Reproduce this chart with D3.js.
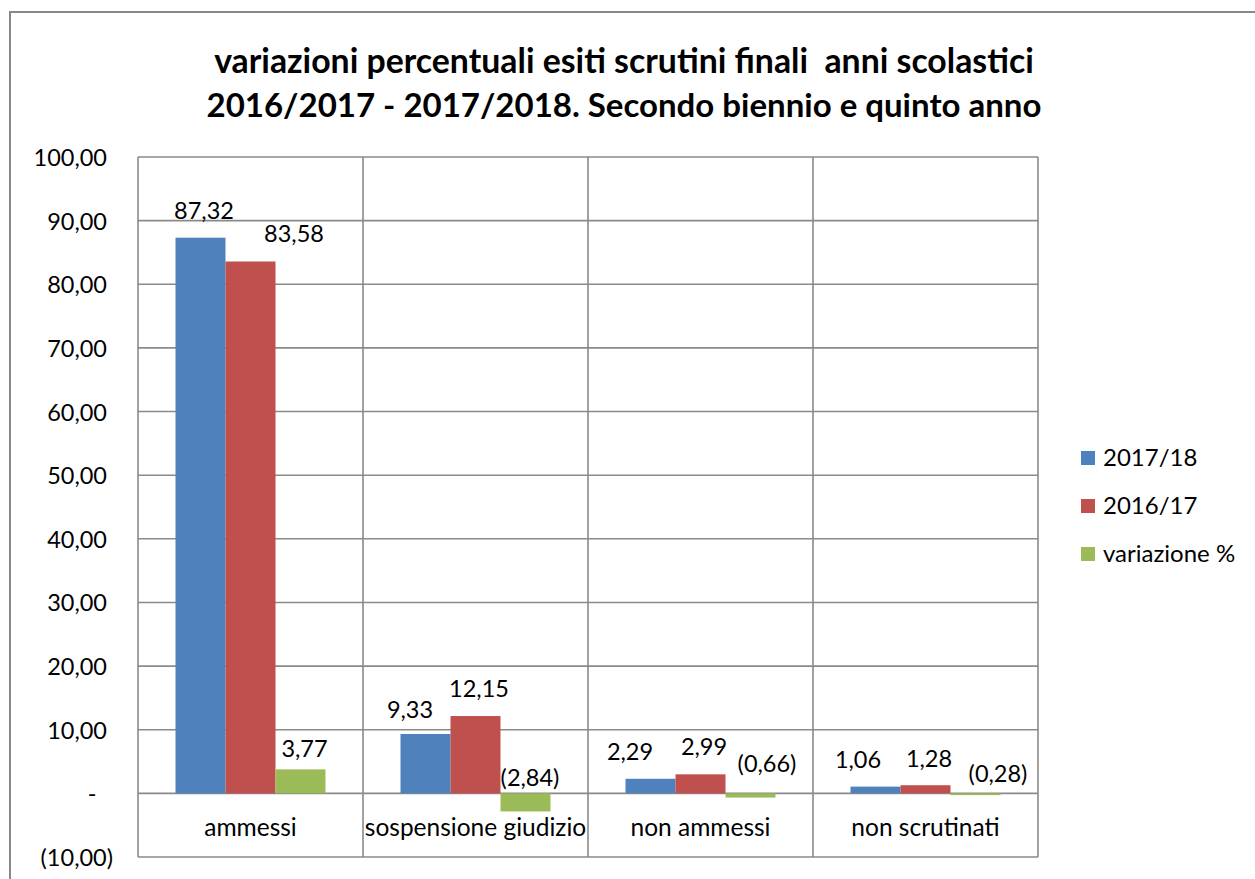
<!DOCTYPE html>
<html>
<head>
<meta charset="utf-8">
<script src="https://cdn.jsdelivr.net/npm/d3@7"></script>
<style>
  body { margin: 0; background: #fff; }
  svg { display: block; font-family: "Lato", "Liberation Sans", sans-serif; }
</style>
</head>
<body>
<svg id="chart" width="1255" height="879"></svg>
<script>
// data
var categories = ["ammessi", "sospensione giudizio", "non ammessi", "non scrutinati"];
var seriesNames = ["2017/18", "2016/17", "variazione %"];
var values1718 = [87.32, 9.33, 2.29, 1.06];
var values1617 = [83.58, 12.15, 2.99, 1.28];
var variazione = [3.77, -2.84, -0.66, -0.28];
var yTicks = [-10, 0, 10, 20, 30, 40, 50, 60, 70, 80, 90, 100];

// label nudges (excel moved some labels to avoid overlaps)
var nudgeX = [[3.5, -15.5, -20.5, -17.5], [43.5, 3.5, 3.5, 3.5], [4, 4.5, 16.5, 22.5]];
var nudgeY = [[0, 3, 0, 0], [0, 0, 0, 1], [7, 12, -2, 8]];

var COLORS = ["#4F81BD", "#C0504D", "#9BBB59"];
var GRID = "#8a8a8a";

var svg = d3.select("#chart");

// outer frame
svg.append("rect")
  .attr("x", 10).attr("y", 12)
  .attr("width", 1260).attr("height", 900)
  .style("fill", "none").style("stroke", "#888").style("stroke-width", 2);

// title
var title = svg.append("text")
  .attr("text-anchor", "middle")
  .style("font-weight", "bold")
  .attr("fill", "#000");
title.append("tspan").attr("x", 624).attr("y", 73)
  .style("font-size", "33.8px")
  .text("variazioni percentuali esiti scrutini finali\u00a0 anni scolastici");
title.append("tspan").attr("x", 624).attr("y", 117)
  .style("font-size", "33px")
  .text("2016/2017 - 2017/2018. Secondo biennio e quinto anno");

// scales
var x = d3.scaleBand().domain(categories).range([138, 1038]).paddingInner(0).paddingOuter(0);
var xs = d3.scaleBand().domain(seriesNames).range([0, x.bandwidth()]).paddingInner(0).paddingOuter(0.75);
var y = d3.scaleLinear().domain([-10, 100]).range([857, 157]);

var it = d3.formatLocale({decimal: ",", thousands: ".", grouping: [3], currency: ["", ""]});
var fmt = it.format(",.2f");
var acct = function(v){
  if (Math.abs(v) < 1e-9) return "-";
  if (v < 0) return "(" + fmt(-v) + ")";
  return fmt(v);
};

// gridlines
var grid = svg.append("g");
grid.selectAll(".h").data(yTicks).enter().append("line")
  .attr("x1", 138).attr("x2", 1038)
  .attr("y1", function(d){ return y(d); })
  .attr("y2", function(d){ return y(d); })
  .style("stroke", GRID).style("stroke-width", 1.6);
var seps = categories.map(function(c){ return x(c); }).concat([x.range()[1]]);
grid.selectAll(".v").data(seps).enter().append("line")
  .attr("x1", function(d){ return d; }).attr("x2", function(d){ return d; })
  .attr("y1", y(100)).attr("y2", y(-10))
  .style("stroke", GRID).style("stroke-width", 1.6);

// y axis labels
var yAxis = svg.append("g")
  .attr("transform", "translate(107,0)")
  .call(d3.axisLeft(y).tickValues(yTicks).tickSize(0).tickPadding(0).tickFormat(acct));
yAxis.select(".domain").remove();
yAxis.selectAll("text")
  .style("font-size", "23.5px")
  .style("font-family", "Lato, 'Liberation Sans', sans-serif")
  .attr("fill", "#000")
  .attr("dy", "0.36em")
  .each(function(d){
    var t = d3.select(this);
    if (d < 0) t.attr("dx", 6);
    else if (d === 0) t.attr("text-anchor", "middle").attr("dx", -15);
  });

// bars
var table = [values1718, values1617, variazione];
var bars = svg.append("g");
table.forEach(function(vals, s){
  var g = bars.append("g").attr("fill", COLORS[s]);
  g.selectAll("rect").data(vals).enter().append("rect")
    .attr("x", function(d, i){ return x(categories[i]) + xs(seriesNames[s]); })
    .attr("width", xs.bandwidth())
    .attr("y", function(d){ return y(Math.max(0, d)); })
    .attr("height", function(d){ return Math.abs(y(d) - y(0)); });

  // data labels
  svg.append("g").selectAll("text").data(vals).enter().append("text")
    .attr("text-anchor", "middle")
    .style("font-size", "23.5px")
    .attr("fill", "#000")
    .attr("x", function(d, i){ return x(categories[i]) + xs(seriesNames[s]) + xs.bandwidth()/2 + nudgeX[s][i]; })
    .attr("y", function(d, i){ return y(Math.max(0, d)) - 19 + nudgeY[s][i]; })
    .text(acct);
});

// category labels
svg.append("g").selectAll("text").data(categories).enter().append("text")
  .attr("text-anchor", "middle")
  .style("font-size", "24.5px")
  .attr("fill", "#000")
  .attr("x", function(d){ return x(d) + x.bandwidth()/2; })
  .attr("y", 836)
  .text(function(d){ return d; });

// legend
var legend = svg.append("g").attr("transform", "translate(1081,451)");
seriesNames.forEach(function(name, i){
  var row = legend.append("g").attr("transform", "translate(0," + (i*48) + ")");
  row.append("rect").attr("width", 14).attr("height", 14).style("fill", COLORS[i]);
  row.append("text").attr("x", 22).attr("y", 15)
    .style("font-size", "24px").attr("fill", "#000")
    .text(name);
});
</script>
</body>
</html>
